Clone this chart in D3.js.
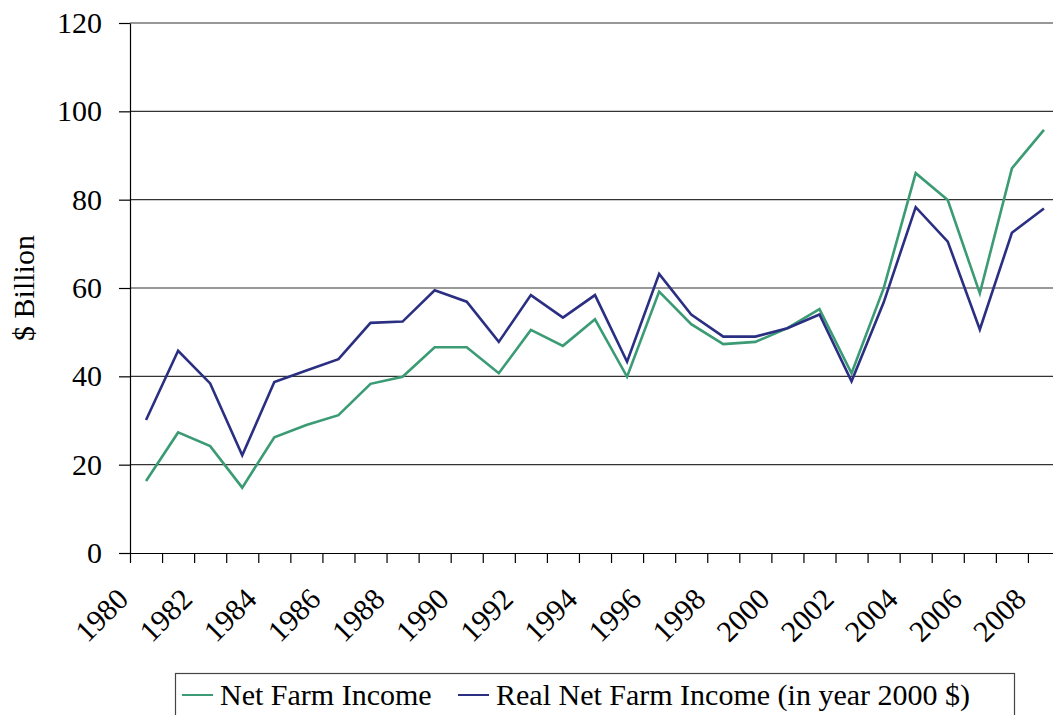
<!DOCTYPE html>
<meta charset="utf-8">
<html>
    <head>
        <style type="text/css">
            body { margin:0; background:#fff; }
            svg { display:block; }
            .graphText { font-family: "Liberation Serif", "Times New Roman", Times, "Nimbus Roman", "Noto Serif", "DejaVu Serif", serif; font-size: 30px; fill: #000; }
        </style>
        <script src="https://d3js.org/d3.v7.min.js"></script>
    </head>
    <body>
        <svg width="1053" height="715"></svg>
        <script type="text/javascript">
            // data
            var years = d3.range(1980, 2009);
            var netFarmIncome = [16.3, 27.3, 24.2, 14.8, 26.2, 29.0, 31.2, 38.3, 39.9, 46.6,
                                 46.6, 40.7, 50.5, 46.9, 52.9, 39.9, 59.2, 51.8, 47.3, 47.8,
                                 50.9, 55.2, 40.7, 59.9, 86.0, 79.9, 58.8, 87.1, 95.8];
            var realNetFarmIncome = [30.1, 45.8, 38.4, 22.1, 38.7, 41.3, 43.9, 52.1, 52.4, 59.5,
                                     56.9, 47.8, 58.4, 53.3, 58.4, 43.3, 63.2, 54.0, 49.0, 49.0,
                                     50.9, 54.0, 38.9, 56.7, 78.3, 70.5, 50.6, 72.5, 78.0];
            var yTicks = [0, 20, 40, 60, 80, 100, 120];
            var seriesNames = ["Net Farm Income", "Real Net Farm Income (in year 2000 $)"];
            var seriesColors = ["#3a9b74", "#2b2f82"];

            var margin = {top: 23, left: 130, bottom: 553, right: 1060};

            var svg = d3.select("svg");

            var xScale = d3.scaleBand()
                .domain(years)
                .range([margin.left, margin.right]);
            // boundaries between categories, for the tick marks
            var edgeScale = d3.scaleLinear()
                .domain([0, years.length])
                .range([margin.left, margin.right]);
            var yScale = d3.scaleLinear()
                .domain([0, 120])
                .range([margin.bottom, margin.top]);

            // gridlines
            svg.append("g")
                .selectAll("line")
                .data(yTicks.filter(d => d > 0))
                .enter().append("line")
                .attr("x1", margin.left)
                .attr("x2", margin.right)
                .attr("y1", d => yScale(d))
                .attr("y2", d => yScale(d))
                .style("stroke", "#333")
                .style("stroke-width", 1.2);

            var yAxis = d3.axisLeft(yScale)
                .tickValues(yTicks)
                .tickSize(11)
                .tickSizeOuter(0)
                .tickPadding(17);
            var gy = svg.append("g")
                .attr("transform", "translate(" + [margin.left, 0] + ")")
                .call(yAxis)
                .attr("font-family", null)
                .attr("font-size", null);
            gy.selectAll("text").attr("class", "graphText");
            gy.selectAll("line, path").style("stroke", "#000").style("stroke-width", 1.2);

            var xAxis = d3.axisBottom(edgeScale)
                .tickValues(d3.range(0, years.length + 1))
                .tickFormat("")
                .tickSize(10)
                .tickSizeOuter(0);
            var gx = svg.append("g")
                .attr("transform", "translate(" + [0, margin.bottom] + ")")
                .call(xAxis);
            gx.selectAll("line, path").style("stroke", "#000").style("stroke-width", 1.2);

            svg.append("g")
                .selectAll("text")
                .data(years.filter(y => y % 2 === 0))
                .enter().append("text")
                .attr("class", "graphText")
                .attr("text-anchor", "end")
                .attr("transform", d => "translate(" + [xScale(d) + xScale.bandwidth() / 2 - 16, 601] + ") rotate(-45)")
                .text(d => d);

            // lines
            var line = d3.line()
                .x((d, i) => xScale(years[i]) + xScale.bandwidth() / 2)
                .y(d => yScale(d));

            [netFarmIncome, realNetFarmIncome].forEach((series, i) => {
                svg.append("path")
                    .datum(series)
                    .attr("d", line)
                    .attr("fill", "none")
                    .style("stroke", seriesColors[i])
                    .style("stroke-width", 2.6)
                    .style("stroke-linejoin", "miter");
            });

            svg.append("text")
                .attr("class", "graphText")
                .attr("text-anchor", "middle")
                .attr("transform", "translate(34,288) rotate(-90)")
                .text("$ Billion");

            // legend
            var legend = svg.append("g");
            legend.append("rect")
                .attr("x", 175.5)
                .attr("y", 673.5)
                .attr("width", 839)
                .attr("height", 60)
                .attr("fill", "none")
                .style("stroke", "#444")
                .style("stroke-width", 1.2);
            var legendX = [182, 458];
            seriesNames.forEach((name, i) => {
                legend.append("line")
                    .attr("x1", legendX[i])
                    .attr("x2", legendX[i] + 31)
                    .attr("y1", 695)
                    .attr("y2", 695)
                    .style("stroke", seriesColors[i])
                    .style("stroke-width", 2);
                legend.append("text")
                    .attr("class", "graphText")
                    .attr("x", legendX[i] + 38)
                    .attr("y", 705)
                    .text(name);
            });
        </script>
    </body>
</html>
